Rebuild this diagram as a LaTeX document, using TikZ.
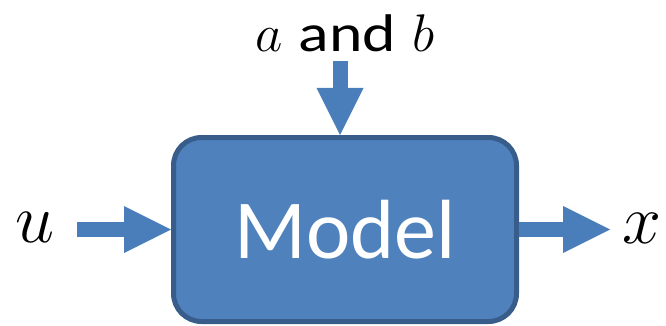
\documentclass[tikz,border=0pt]{standalone}
\usepackage{fix-cm}
\usepackage{fontspec}
\setmainfont{Carlito}
\usetikzlibrary{arrows.meta,calc}
\definecolor{boxfill}{HTML}{4F81BD}
\definecolor{boxline}{HTML}{385D8A}
\definecolor{arrowfill}{HTML}{4A7EBB}
\begin{document}
\begin{tikzpicture}[x=1pt,y=-1pt,
  modelbox/.style={draw=boxline, fill=boxfill, line width=5pt, rounded corners=28pt,
    minimum width=343pt, minimum height=184pt, inner sep=0pt, text=white,
    font=\fontsize{84}{84}\selectfont},
  blockarrow/.style={draw=arrowfill, line width=15pt,
    -{Triangle[length=47pt,width=47pt,line width=0pt,fill=arrowfill]}},
  sidelbl/.style={anchor=base, inner sep=0pt, font=\fontsize{70}{70}\selectfont},
  toplbl/.style={anchor=base, inner sep=0pt, font=\fontsize{53}{53}\selectfont}]
\useasboundingbox (0,0) rectangle (666,326);
\node[modelbox] (model) at (345,229.5) {Model};
\node[sidelbl] (u) at (35.5,242) {$u$};
\node[sidelbl] (x) at (642,243) {$x$};
\node[toplbl] (ab) at (345,52) {$a$\hspace{16pt}\scalebox{1.2}[1]{and}\hspace{16pt}$b$};
\coordinate (ustart) at (77,229.5);
\coordinate (xend) at (610,229.5);
\coordinate (abstart) at (340,61);
\draw[blockarrow] (ustart) -- (model.west);
\draw[blockarrow] (model.east) -- (xend);
\draw[blockarrow] (abstart) -- (abstart |- model.north);
\end{tikzpicture}
\end{document}
